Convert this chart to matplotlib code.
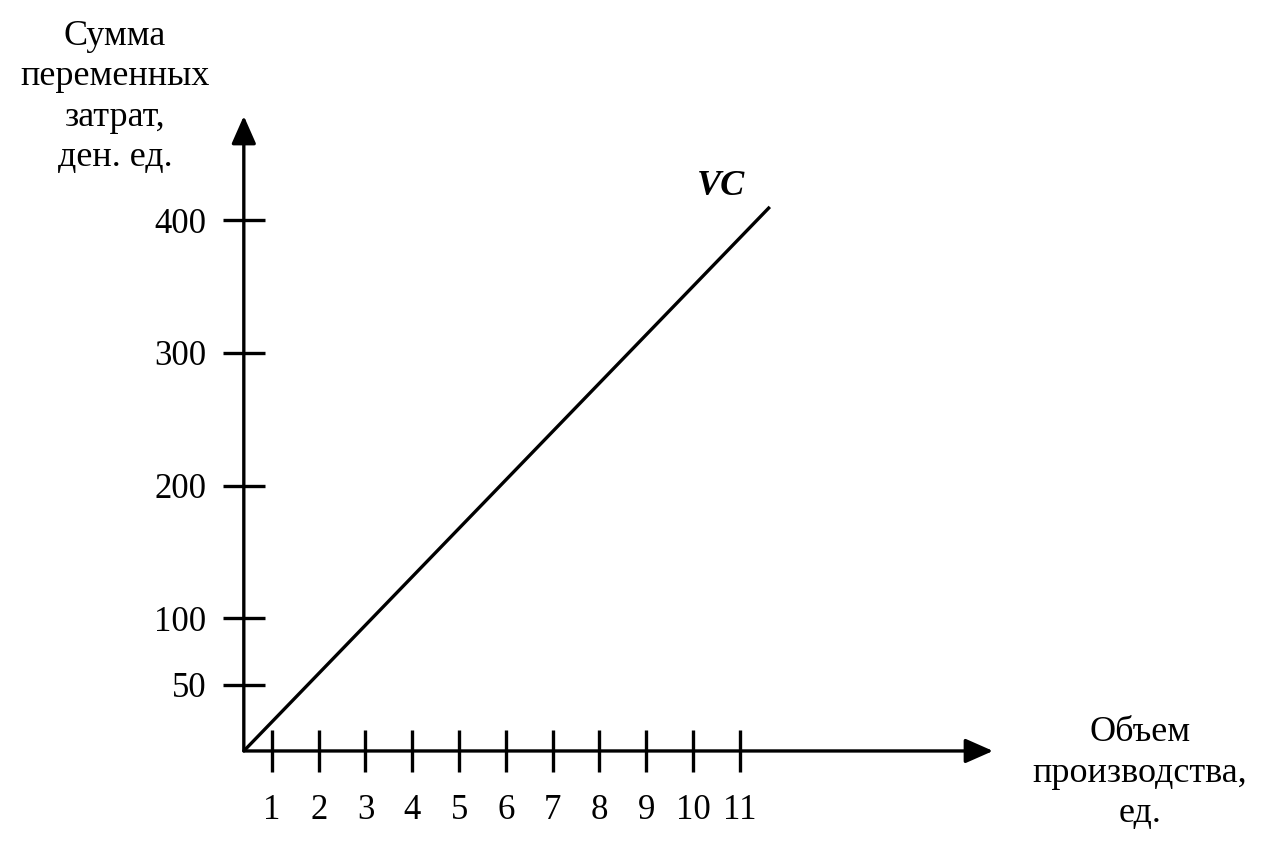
import matplotlib.pyplot as plt

plt.rcParams['font.family'] = ['Liberation Serif', 'DejaVu Serif']

# данные графика
volume_ticks = [1, 2, 3, 4, 5, 6, 7, 8, 9, 10, 11]
cost_ticks = [50, 100, 200, 300, 400]
vc_volume = [0.4, 11.64]
vc_cost = [0, 410]

y_title = 'Сумма\nпеременных\nзатрат,\nден. ед.'
x_title = 'Объем\nпроизводства,\nед.'
line_label = 'VC'

FS = 25
TFS = 26
LW = 2.4

fig = plt.figure(figsize=(12.86, 8.55), dpi=100)
ax = fig.add_axes([0, 0, 1, 1])
ax.set_xlim(-4.81, 22.67)
ax.set_ylim(-78.4, 565.9)

# оси с началом в точке (vc_volume[0], 0)
x0 = vc_volume[0]
for side in ['top', 'right', 'left', 'bottom']:
    ax.spines[side].set_visible(False)
ax.spines['left'].set_position(('data', x0))
ax.spines['bottom'].set_position(('data', 0))

arrow = dict(arrowstyle='-|>,head_length=1.7,head_width=0.75', lw=LW,
             color='black', shrinkA=0, shrinkB=0, mutation_scale=10)
ax.annotate('', xy=(16.41, 0), xytext=(x0, 0), arrowprops=arrow)
ax.annotate('', xy=(x0, 478.5), xytext=(x0, 0), arrowprops=arrow)

ax.set_xticks(volume_ticks)
ax.set_yticks(cost_ticks)
ax.tick_params(direction='inout', length=30, width=LW, labelsize=FS, color='black')
ax.tick_params(axis='x', pad=16)
ax.tick_params(axis='y', pad=12)

# линия переменных затрат
ax.plot(vc_volume, vc_cost, color='black', lw=LW, solid_capstyle='butt')
ax.annotate(line_label, xy=(vc_volume[-1], vc_cost[-1]), xytext=(-35, 15),
            textcoords='offset points', ha='center', va='center',
            fontsize=TFS, fontweight='bold', fontstyle='italic')

fig.text(115 / 1286, 1 - 97 / 855, y_title, ha='center', va='center',
         multialignment='center', fontsize=TFS, linespacing=1.3)
fig.text(1140 / 1286, 1 - 773 / 855, x_title, ha='center', va='center',
         multialignment='center', fontsize=TFS, linespacing=1.3)

plt.savefig('out.png', dpi=100)
